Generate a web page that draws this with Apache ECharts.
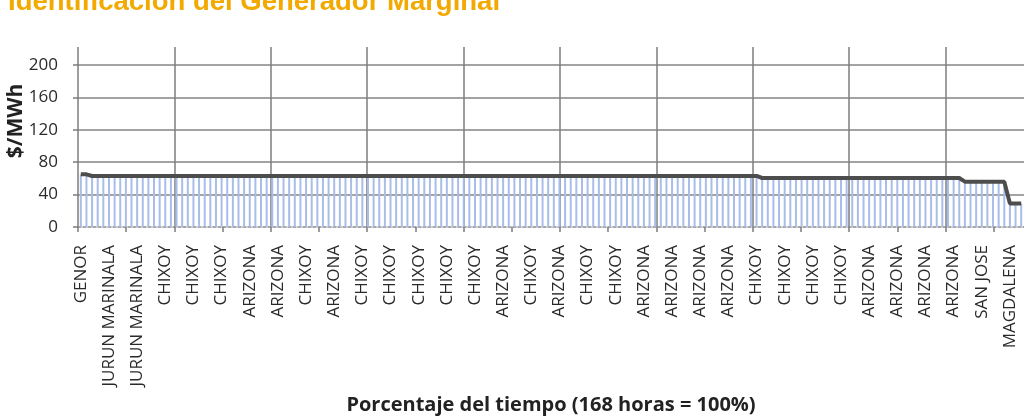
<!DOCTYPE html>
<html>
<head>
<meta charset="utf-8">
<script src="https://cdn.jsdelivr.net/npm/echarts@6/dist/echarts.min.js"></script>
<style>
  html, body { margin: 0; padding: 0; background: #fff; overflow: hidden; }
  #chart { width: 1060px; height: 417px; }
</style>
</head>
<body>
<div id="chart"></div>
<script>
// Marginal generator named every 5 hours (tick labels)
const marginalGen = [
    'GENOR', 'JURUN MARINALA', 'JURUN MARINALA', 'CHIXOY', 'CHIXOY', 'CHIXOY',
    'ARIZONA', 'ARIZONA', 'CHIXOY', 'ARIZONA', 'CHIXOY', 'CHIXOY', 'CHIXOY',
    'CHIXOY', 'CHIXOY', 'ARIZONA', 'CHIXOY', 'ARIZONA', 'CHIXOY', 'CHIXOY',
    'ARIZONA', 'ARIZONA', 'ARIZONA', 'ARIZONA', 'CHIXOY', 'CHIXOY', 'CHIXOY',
    'CHIXOY', 'ARIZONA', 'ARIZONA', 'ARIZONA', 'ARIZONA', 'SAN JOSE', 'MAGDALENA'
];

// Marginal price per hour, $/MWh (168 hours, sorted high to low)
const price = [
    65, 65, 63, 63, 63, 63, 63, 63, 63, 63, 63, 63,
    63, 63, 63, 63, 63, 63, 63, 63, 63, 63, 63, 63,
    63, 63, 63, 63, 63, 63, 63, 63, 63, 63, 63, 63,
    63, 63, 63, 63, 63, 63, 63, 63, 63, 63, 63, 63,
    63, 63, 63, 63, 63, 63, 63, 63, 63, 63, 63, 63,
    63, 63, 63, 63, 63, 63, 63, 63, 63, 63, 63, 63,
    63, 63, 63, 63, 63, 63, 63, 63, 63, 63, 63, 63,
    63, 63, 63, 63, 63, 63, 63, 63, 63, 63, 63, 63,
    63, 63, 63, 63, 63, 63, 63, 63, 63, 63, 63, 63,
    63, 63, 63, 63, 63, 63, 63, 63, 63, 63, 63, 63,
    63, 60.5, 60.5, 60.5, 60.5, 60.5, 60.5, 60.5, 60.5, 60.5, 60.5, 60.5,
    60.5, 60.5, 60.5, 60.5, 60.5, 60.5, 60.5, 60.5, 60.5, 60.5, 60.5, 60.5,
    60.5, 60.5, 60.5, 60.5, 60.5, 60.5, 60.5, 60.5, 60.5, 60.5, 60.5, 60.5,
    60.5, 56, 56, 56, 56, 56, 56, 56, 56, 29, 29, 29
];

const yTicks = { min: 0, max: 200, step: 40 };

const hours = price.map((_, i) => i % 5 === 0 ? marginalGen[i / 5] : '');

const gridColor = '#7c7c7c';
const font = "'Open Sans', sans-serif";

const chart = echarts.init(document.getElementById('chart'));
chart.setOption({
    animation: false,
    grid: [
        { left: 78, right: 36, top: 65, bottom: 190 },
        // wider grid used only for the 10% vertical gridlines
        { left: 78, right: 18, top: 47, bottom: 190 }
    ],
    graphic: [
        {
            type: 'text', left: 8, top: -12,
            style: { text: 'Identificación del Generador Marginal', fill: '#f2a900',
                     font: "bold 27.5px 'Liberation Sans', Arial, sans-serif" }
        },
        {
            type: 'text', x: 16, y: 121, rotation: Math.PI / 2,
            style: { text: '$/MWh', fill: '#222', align: 'center', verticalAlign: 'middle',
                     font: "bold 21px 'Open Sans', sans-serif" }
        }
    ],
    xAxis: [
        {
            type: 'category', gridIndex: 0, data: hours, boundaryGap: true,
            axisLine: { lineStyle: { color: '#8a8a8a', width: 1.5, type: [3, 2] } },
            axisTick: { show: false },
            axisLabel: { interval: 4, rotate: 90, margin: 18, color: '#2a2a2a',
                         fontFamily: font, fontSize: 17 },
            splitLine: { show: false },
            name: 'Porcentaje del tiempo (168 horas = 100%)',
            nameLocation: 'middle', nameGap: 168,
            nameTextStyle: { fontFamily: font, fontWeight: 'bold', fontSize: 20, color: '#222' }
        },
        {
            type: 'value', gridIndex: 1, min: 0, max: 10, interval: 1,
            axisLine: { show: false },
            axisLabel: { show: false },
            axisTick: { show: true, length: 5, lineStyle: { color: gridColor, width: 1.5 } },
            minorTick: { show: true, splitNumber: 2, length: 5, lineStyle: { color: gridColor, width: 1.5 } },
            splitLine: { show: true, lineStyle: { color: gridColor, width: 1.5 } }
        }
    ],
    yAxis: [
        {
            type: 'value', gridIndex: 0, min: yTicks.min, max: yTicks.max, interval: yTicks.step,
            axisLine: { show: false },
            axisTick: { show: true, length: 5, lineStyle: { color: gridColor, width: 1.5 } },
            axisLabel: { margin: 20, color: '#2a2a2a', fontFamily: font, fontSize: 17 },
            splitLine: { show: true, showMinLine: false, lineStyle: { color: '#858585', width: 1.5 } }
        },
        { type: 'value', gridIndex: 1, show: false, min: 0, max: 1 }
    ],
    series: [
        {
            type: 'bar', xAxisIndex: 0, yAxisIndex: 0, data: price,
            barWidth: 2, itemStyle: { color: '#a9bdea' }, silent: true
        },
        {
            type: 'line', xAxisIndex: 0, yAxisIndex: 0, data: price,
            showSymbol: false, lineStyle: { color: '#4d4d4d', width: 4 }, z: 5, silent: true
        }
    ]
});
</script>
</body>
</html>
